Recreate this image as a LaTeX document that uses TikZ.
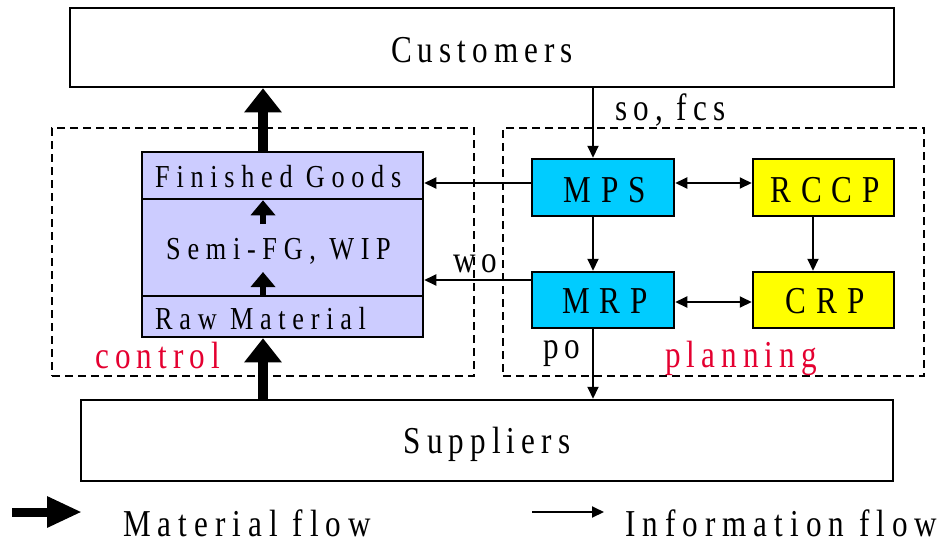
\documentclass[tikz,border=0pt]{standalone}
\usepackage{fontspec}
\setmainfont{Liberation Serif}[FakeStretch=0.82, LetterSpace=16]
\newfontfamily\boxfont{Liberation Serif}[FakeStretch=0.82, LetterSpace=26]
\newfontfamily\stackfont{Liberation Serif}[FakeStretch=0.82, LetterSpace=21]
\newfontfamily\legfont{Liberation Serif}[FakeStretch=0.82, LetterSpace=18.5]
\usetikzlibrary{arrows.meta}
\definecolor{lav}{RGB}{204,204,255}
\definecolor{skyb}{RGB}{0,204,255}
\definecolor{yel}{RGB}{255,255,0}
\definecolor{redtxt}{RGB}{228,0,48}
\tikzset{
  box/.style={draw=black, line width=2.5pt, inner sep=0pt},
  dbox/.style={draw=black, line width=2pt, dash pattern=on 8pt off 5pt, inner sep=0pt},
  info/.style={line width=2pt, -{Triangle[length=12pt,width=11pt]}},
  infob/.style={line width=2pt, {Triangle[length=12pt,width=11pt]}-{Triangle[length=12pt,width=11pt]}},
  matl/.style={line width=10pt, -{Triangle[length=24pt,width=36pt]}},
  small/.style={line width=6pt, -{Triangle[length=15pt,width=24pt]}},
  big/.style={font=\fontsize{38}{40}\selectfont, inner sep=0pt},
  boxlab/.style={font=\boxfont\fontsize{38}{40}\selectfont, inner sep=0pt},
  leg/.style={font=\legfont\fontsize{38}{40}\selectfont, inner sep=0pt},
  mid/.style={font=\stackfont\fontsize{32}{34}\selectfont, inner sep=0pt},
}
\begin{document}
\begin{tikzpicture}[x=1pt,y=-1pt]
\useasboundingbox (0,0) rectangle (946,550);
% dashed regions
\node[dbox, minimum width=422, minimum height=248] (ctrl) at (263,252) {};
\node[dbox, minimum width=421, minimum height=248] (plan) at (713.5,252) {};
% main boxes
\node[box, minimum width=824, minimum height=79] (cust) at (482,47.5) {};
\node[box, minimum width=812, minimum height=81] (supp) at (487,440.5) {};
\node[box, fill=lav, minimum width=281, minimum height=47] (fg) at (282.5,175.5) {};
\node[box, fill=lav, minimum width=281, minimum height=97] (semi) at (282.5,247.5) {};
\node[box, fill=lav, minimum width=281, minimum height=41] (raw) at (282.5,316.5) {};
\node[box, fill=skyb, minimum width=142, minimum height=57] (mps) at (603,187.5) {};
\node[box, fill=yel, minimum width=141, minimum height=57] (rccp) at (823.5,187.5) {};
\node[box, fill=skyb, minimum width=142, minimum height=56] (mrp) at (603,300) {};
\node[box, fill=yel, minimum width=141, minimum height=56] (crp) at (823.5,300) {};
% texts
\node[big, anchor=base] (tcust) at (482,62) {Customers};
\node[big, anchor=base] (tsupp) at (487,453) {Suppliers};
\node[mid, anchor=base west] (tfg) at (155,187) {Finished Goods};
\node[mid, anchor=base west] (tsemi) at (166,259) {Semi-FG, WIP};
\node[mid, anchor=base west] (traw) at (155,329) {Raw Material};
\node[boxlab, anchor=base] (tmps) at (605,202) {MPS};
\node[boxlab, anchor=base] (trccp) at (825,202) {RCCP};
\node[boxlab, anchor=base] (tmrp) at (605,313) {MRP};
\node[boxlab, anchor=base] (tcrp) at (825,313) {CRP};
\node[big, anchor=base west] (tso) at (615,120) {so, fcs};
\node[big, anchor=base west] (tpo) at (543,358) {po};
\node[big, anchor=base west] (two) at (453,272) {wo};
\node[big, anchor=base west, text=redtxt] (tctrl) at (95,368) {control};
\node[big, anchor=base west, text=redtxt] (tplan) at (665,367) {planning};
% information flow
\draw[info] (cust.south -| 593,0) -- (mps.north -| 593,0);
\draw[info] (mps.south -| 593,0) -- (mrp.north -| 593,0);
\draw[info] (mrp.south -| 593,0) -- (supp.north -| 593,0);
\draw[info] (rccp.south -| 813,0) -- (crp.north -| 813,0);
\draw[info] (mps.west |- 0,183) -- (fg.east |- 0,183);
\draw[info] (mrp.west |- 0,280) -- (semi.east |- 0,280);
\draw[infob] (mps.east |- 0,183) -- (rccp.west |- 0,183);
\draw[infob] (mrp.east |- 0,302) -- (crp.west |- 0,302);
% material flow
\draw[matl] (fg.north -| 263,0) -- (cust.south -| 263,0);
\draw[matl] (supp.north -| 263,0) -- (raw.south -| 263,0);
\coordinate (s1) at (263,224);
\coordinate (s2) at (263,272);
\draw[small] (s1) -- (fg.south -| s1);
\draw[small] (raw.north -| s2) -- (s2);
% legend
\coordinate (lm1) at (12,512);
\coordinate (lm2) at (82,512);
\draw[line width=9pt, -{Triangle[length=35pt,width=29pt]}] (lm1) -- (lm2);
\node[leg, anchor=base west] (tmat) at (123,536) {Material flow};
\coordinate (li1) at (532,512);
\coordinate (li2) at (604,512);
\draw[info] (li1) -- (li2);
\node[leg, anchor=base west] (tinf) at (625,536) {Information flow};
\end{tikzpicture}
\end{document}
